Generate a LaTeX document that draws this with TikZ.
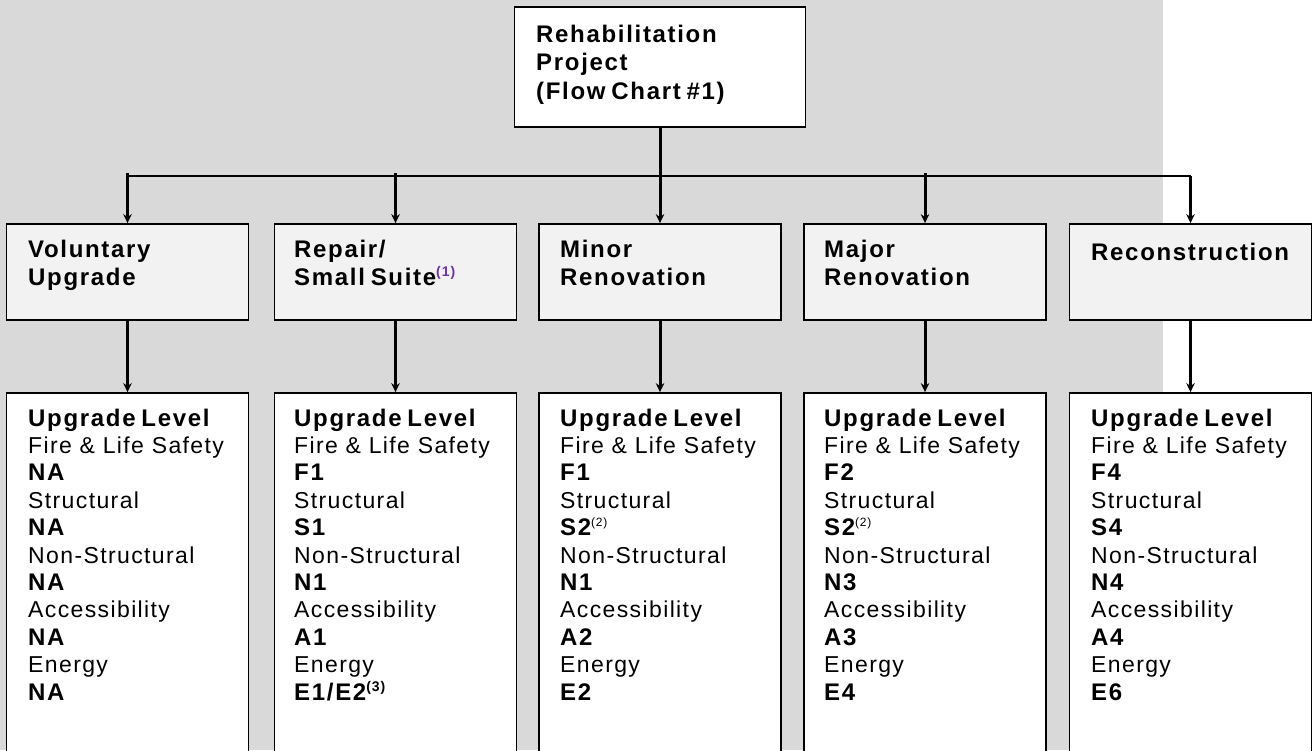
\documentclass[tikz,border=0pt]{standalone}
\usepackage{fontspec}
\setmainfont{Liberation Sans}
\newfontfamily\rgf{Liberation Sans}[LetterSpace=6]
\newfontfamily\bdf{Liberation Sans}[LetterSpace=7, WordSpace=0.7]
\usetikzlibrary{arrows.meta}
\definecolor{bggray}{HTML}{D9D9D9}
\definecolor{boxgray}{HTML}{F2F2F2}
\definecolor{notepurple}{HTML}{7030A0}
\newcommand{\mybold}[1]{{\fontsize{24}{27.4}\bdf\bfseries #1}}
\newcommand{\myreg}[1]{{\fontsize{23}{27.4}\rgf #1}}
\newcommand{\boxtext}[2]{\fontsize{22}{#1}\selectfont\begin{tabular}[t]{@{}l@{}}#2\end{tabular}}
\newcommand{\supnote}[2]{\raisebox{9pt}{\fontsize{#1}{#1}\selectfont #2}}
\tikzset{
  boxbase/.style={draw=black, line width=1.8pt, inner sep=0pt},
  titlebox/.style={boxbase, fill=white, minimum width=291pt, minimum height=120pt},
  catbox/.style={boxbase, fill=boxgray, minimum width=242pt, minimum height=96pt},
  lvlbox/.style={boxbase, fill=white, minimum width=242pt, minimum height=380pt},
  txt/.style={anchor=base west, inner sep=0pt},
  arr/.style={line width=3pt, -{Stealth[length=9pt, width=8.5pt, inset=3pt]}},
  hline/.style={line width=2pt}
}
\begin{document}
\begin{tikzpicture}[x=1pt,y=-1pt]
\useasboundingbox (0,0) rectangle (1316,750);
\clip (0,0) rectangle (1316,750);
\fill[bggray] (0,0) rectangle (1163,750);
% title
\node[titlebox] (rehab) at (660,67) {};
\node[txt] (rehabt) at (536,42) {\boxtext{28.5}{\mybold{Rehabilitation}\\ \mybold{Project}\\ \mybold{(Flow Chart \#1)}}};
% category boxes
\node[catbox] (c1) at (127.5,272) {};
\node[catbox] (c2) at (395.5,272) {};
\node[catbox] (c3) at (660,272) {};
\node[catbox] (c4) at (925,272) {};
\node[catbox] (c5) at (1190.5,272) {};
\node[txt] (c1t) at (28,257) {\boxtext{28}{\mybold{Voluntary}\\ \mybold{Upgrade}}};
\node[txt] (c2t) at (294,257) {\boxtext{28}{\mybold{Repair/}\\ \mybold{Small Suite}{\color{notepurple}\mybold{\supnote{14}{(1)}}}}};
\node[txt] (c3t) at (560,257) {\boxtext{28}{\mybold{Minor}\\ \mybold{Renovation}}};
\node[txt] (c4t) at (824,257) {\boxtext{28}{\mybold{Major}\\ \mybold{Renovation}}};
\node[txt] (c5t) at (1091,260) {\boxtext{28}{\mybold{Reconstruction}}};
% level boxes
\node[lvlbox] (l1) at (127.5,583) {};
\node[lvlbox] (l2) at (395.5,583) {};
\node[lvlbox] (l3) at (660,583) {};
\node[lvlbox] (l4) at (925,583) {};
\node[lvlbox] (l5) at (1190.5,583) {};
\node[txt] (l1t) at (28,426) {\boxtext{27.4}{\mybold{Upgrade Level}\\ \myreg{Fire \& Life Safety}\\ \mybold{NA}\\ \myreg{Structural}\\ \mybold{NA}\\ \myreg{Non-Structural}\\ \mybold{NA}\\ \myreg{Accessibility}\\ \mybold{NA}\\ \myreg{Energy}\\ \mybold{NA}}};
\node[txt] (l2t) at (294,426) {\boxtext{27.4}{\mybold{Upgrade Level}\\ \myreg{Fire \& Life Safety}\\ \mybold{F1}\\ \myreg{Structural}\\ \mybold{S1}\\ \myreg{Non-Structural}\\ \mybold{N1}\\ \myreg{Accessibility}\\ \mybold{A1}\\ \myreg{Energy}\\ \mybold{E1/E2\supnote{14}{(3)}}}};
\node[txt] (l3t) at (560,426) {\boxtext{27.4}{\mybold{Upgrade Level}\\ \myreg{Fire \& Life Safety}\\ \mybold{F1}\\ \myreg{Structural}\\ \mybold{S2}\myreg{\supnote{12}{(2)}}\\ \myreg{Non-Structural}\\ \mybold{N1}\\ \myreg{Accessibility}\\ \mybold{A2}\\ \myreg{Energy}\\ \mybold{E2}}};
\node[txt] (l4t) at (824,426) {\boxtext{27.4}{\mybold{Upgrade Level}\\ \myreg{Fire \& Life Safety}\\ \mybold{F2}\\ \myreg{Structural}\\ \mybold{S2}\myreg{\supnote{12}{(2)}}\\ \myreg{Non-Structural}\\ \mybold{N3}\\ \myreg{Accessibility}\\ \mybold{A3}\\ \myreg{Energy}\\ \mybold{E4}}};
\node[txt] (l5t) at (1091,426) {\boxtext{27.4}{\mybold{Upgrade Level}\\ \myreg{Fire \& Life Safety}\\ \mybold{F4}\\ \myreg{Structural}\\ \mybold{S4}\\ \myreg{Non-Structural}\\ \mybold{N4}\\ \myreg{Accessibility}\\ \mybold{A4}\\ \myreg{Energy}\\ \mybold{E6}}};
% connectors
\coordinate (hl) at (127.5,176);
\coordinate (hr) at (1190.5,176);
\draw[hline] (hl) -- (hr);
\draw[arr] (rehab.south) -- (c3.north);
\draw[arr] ([yshift=3pt]c1.north |- hl) -- (c1.north);
\draw[arr] ([yshift=3pt]c2.north |- hl) -- (c2.north);
\draw[arr] ([yshift=3pt]c4.north |- hl) -- (c4.north);
\draw[arr] (hr) -- (c5.north);
\foreach \i in {1,...,5}{\draw[arr] (c\i.south) -- (l\i.north);}
\end{tikzpicture}
\end{document}
